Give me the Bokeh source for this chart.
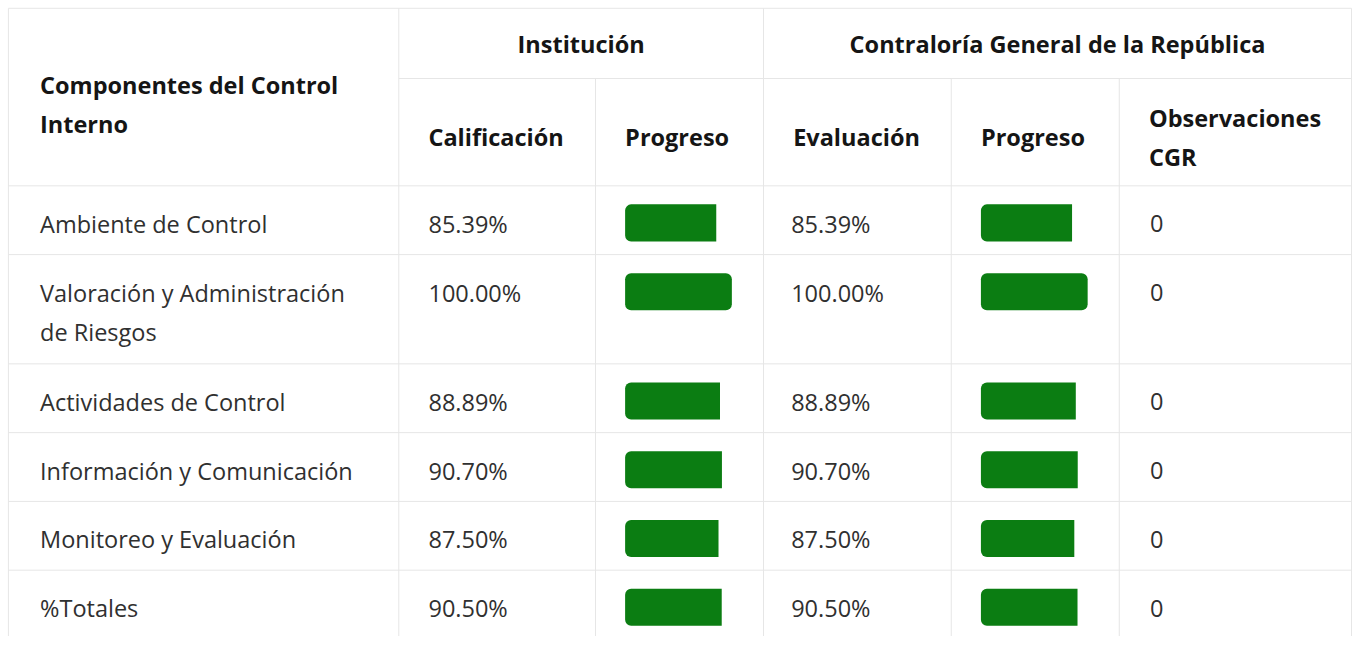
from bokeh.plotting import figure
from bokeh.models import Range1d, ColumnDataSource
from bokeh.core.properties import value
from bokeh.embed import file_html
from bokeh.resources import INLINE

# ---------------- data ----------------
first_header = ["Componentes del Control", "Interno"]
group_headers = ["Institución", "Contraloría General de la República"]
col_headers = ["Calificación", "Progreso", "Evaluación", "Progreso", "Observaciones\nCGR"]
componentes = [
    "Ambiente de Control",
    "Valoración y Administración\nde Riesgos",
    "Actividades de Control",
    "Información y Comunicación",
    "Monitoreo y Evaluación",
    "%Totales",
]
calificacion = [85.39, 100.00, 88.89, 90.70, 87.50, 90.50]
evaluacion = [85.39, 100.00, 88.89, 90.70, 87.50, 90.50]
observaciones = [0, 0, 0, 0, 0, 0]

# ---------------- layout (reference pixels) ----------------
W, H = 1354, 636
REF_W, REF_H = 1370, 652
X_EDGES = [8, 403, 602, 772, 962, 1132, 1367]
PAD = 31
TOP, GROUP_BOTTOM, HEADER_BOTTOM = 8, 80, 190
LINE_H = 40
BAR_FULL = 108
BAR_H = 38
FONT = "Open Sans"
FS = "23.5px"
HEAD_COLOR = "#151515"
BODY_COLOR = "#303030"
GRID = "#e6e6e6"
GREEN = "#0b7d12"

p = figure(width=W, height=H, output_backend="svg", toolbar_location=None,
           x_range=Range1d(0, REF_W), y_range=Range1d(REF_H, 0),
           min_border=0, background_fill_color="white", border_fill_color="white")
p.axis.visible = False
p.grid.visible = False
p.outline_line_color = None

# row geometry
row_lines = [len(c.split("\n")) for c in componentes]
row_tops = []
y = HEADER_BOTTOM
for n in row_lines:
    row_tops.append(y)
    y += 70.5 + 41.5 * (n - 1)
table_bottom = y

# grid lines
hx0, hy0, hx1, hy1 = [], [], [], []
for yy in [TOP, HEADER_BOTTOM] + row_tops[1:] + [table_bottom]:
    hx0.append(X_EDGES[0]); hx1.append(X_EDGES[-1]); hy0.append(yy); hy1.append(yy)
hx0.append(X_EDGES[1]); hx1.append(X_EDGES[-1]); hy0.append(GROUP_BOTTOM); hy1.append(GROUP_BOTTOM)
for i, xx in enumerate(X_EDGES):
    start = GROUP_BOTTOM if i in (2, 4, 5) else TOP
    hx0.append(xx); hx1.append(xx); hy0.append(start); hy1.append(table_bottom)
p.segment(hx0, hy0, hx1, hy1, line_color=GRID, line_width=1)

# text helper
tx, ty, tt, tw, ta, tc = [], [], [], [], [], []
def add(x, y, s, bold=False, align="left"):
    tx.append(x); ty.append(y); tt.append(s)
    tw.append("bold" if bold else "normal"); ta.append(align)
    tc.append(HEAD_COLOR if bold else BODY_COLOR)

# headers
for k, line in enumerate(first_header):
    add(X_EDGES[0] + 32, 87 + k * LINE_H, line, True)
add((X_EDGES[1] + X_EDGES[3]) / 2, 45, group_headers[0], True, "center")
add((X_EDGES[3] + X_EDGES[6]) / 2, 45, group_headers[1], True, "center")
for j, h in enumerate(col_headers):
    lines = h.split("\n")
    y0 = 140 - (len(lines) - 1) * LINE_H / 2
    for k, line in enumerate(lines):
        add(X_EDGES[j + 1] + PAD - 1, y0 + k * LINE_H, line, True)

# body text
for i, name in enumerate(componentes):
    yc = row_tops[i] + 39
    for k, line in enumerate(name.split("\n")):
        add(X_EDGES[0] + 32, yc + k * LINE_H, line)
    add(X_EDGES[1] + PAD - 1, yc, f"{calificacion[i]:.2f}%")
    add(X_EDGES[3] + PAD - 3, yc, f"{evaluacion[i]:.2f}%")
    add(X_EDGES[5] + PAD, yc, str(observaciones[i]))

src = ColumnDataSource(dict(x=tx, y=ty, text=tt, weight=tw, align=ta, color=tc))
p.text(x="x", y="y", text="text", source=src, text_font=value(FONT), text_font_size=FS,
       text_font_style="weight", text_align="align", text_baseline="middle", text_color="color")

# progress bars
def bars(x0, vals):
    full = dict(l=[], r=[], t=[], b=[])
    part = dict(l=[], r=[], t=[], b=[])
    for i, v in enumerate(vals):
        d = full if v >= 100 else part
        yc = row_tops[i] + 38
        d["l"].append(x0); d["r"].append(x0 + BAR_FULL * v / 100.0)
        d["t"].append(yc - BAR_H / 2); d["b"].append(yc + BAR_H / 2)
    if part["l"]:
        p.quad(left=part["l"], right=part["r"], top=part["t"], bottom=part["b"],
               fill_color=GREEN, line_color=None, border_radius=(6, 0, 0, 6))
    if full["l"]:
        p.quad(left=full["l"], right=full["r"], top=full["t"], bottom=full["b"],
               fill_color=GREEN, line_color=None, border_radius=6)

bars(X_EDGES[2] + 30, calificacion)
bars(X_EDGES[4] + 30, evaluacion)

open("out.html", "w").write(file_html(p, INLINE))
